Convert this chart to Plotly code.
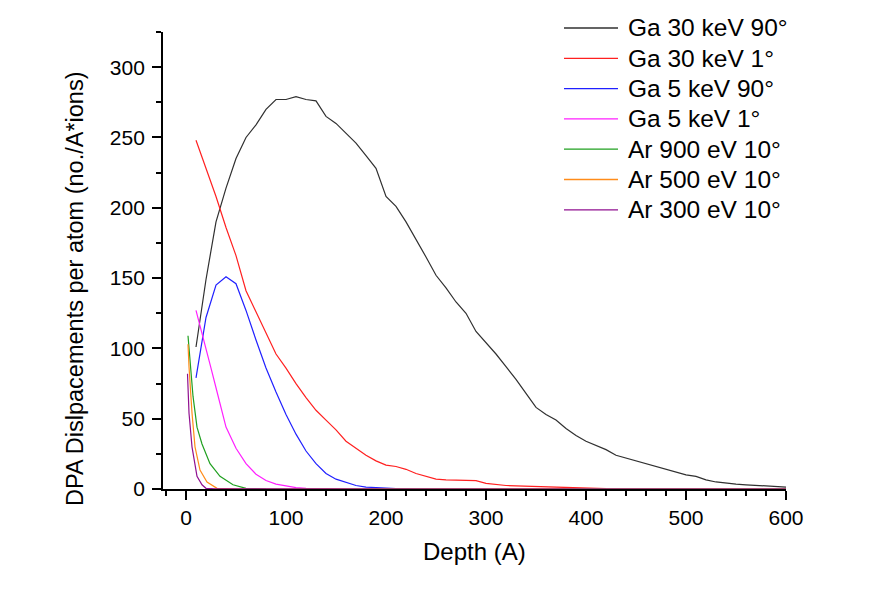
import plotly.graph_objects as go

# ---- data ----
ga30_90_x = list(range(10, 610, 10))
ga30_90_y = [101, 149, 190, 214, 235, 250, 259, 270, 277, 277,
             279, 277, 276, 265, 260, 253, 246, 237, 228, 208,
             201, 190, 178, 165, 152, 143, 133, 125, 112, 104,
             96, 87, 78, 68, 58, 53, 49, 43, 38, 34,
             31, 28, 24, 22, 20, 18, 16, 14, 12, 10,
             9, 6.5, 5, 4, 3.5, 3, 2.5, 2, 1.7, 1.4]

ga30_1_x = list(range(10, 430, 10))
ga30_1_y = [248, 228, 208, 186, 166, 141, 126, 112, 96, 86,
            75, 65, 56, 49, 42, 34, 29, 24, 20, 17,
            16, 14, 11, 9, 7, 6.5, 6.3, 6.2, 6, 4,
            3, 2.5, 2.2, 2, 1.8, 1.6, 1.2, 1, 0.9, 0.8,
            0.5, 0.2]

ga5_90_x = list(range(10, 240, 10)) + [300, 400, 500, 600]
ga5_90_y = [79, 122, 145, 151, 146, 127, 106, 86, 69, 53,
            39, 27, 18, 11, 7, 4.5, 2.5, 1.4, 0.9, 0.5,
            0.3, 0.2, 0.1, 0, 0, 0, 0]

ga5_1_x = [10, 15, 20, 25, 30, 40, 50, 60, 70, 80, 90, 100, 110, 120, 140, 160, 200, 300, 400, 600]
ga5_1_y = [127, 114, 100, 86, 72, 44, 29, 18, 10.5, 6, 3.5, 2, 1, 0.5, 0.2, 0.1, 0, 0, 0, 0]

ar900_x = [2, 4, 7, 11, 16, 24, 34, 47, 60, 80, 100, 200, 400, 600]
ar900_y = [109, 92, 66, 44, 32, 18, 9, 3, 0.5, 0.1, 0, 0, 0, 0]

ar500_x = [2, 3, 6, 9, 14, 21, 31, 45, 60, 100, 200, 400, 600]
ar500_y = [103, 87, 54, 30, 13.5, 5, 0.5, 0.1, 0, 0, 0, 0, 0]

ar300_x = [1.5, 3, 6, 11, 16, 20, 30, 60, 100, 200, 400, 600]
ar300_y = [82, 54, 30, 9, 3, 0.5, 0.1, 0, 0, 0, 0, 0]

series_names = ["Ga 30 keV 90°", "Ga 30 keV 1°", "Ga 5 keV 90°", "Ga 5 keV 1°",
                "Ar 900 eV 10°", "Ar 500 eV 10°", "Ar 300 eV 10°"]
series_x = [ga30_90_x, ga30_1_x, ga5_90_x, ga5_1_x, ar900_x, ar500_x, ar300_x]
series_y = [ga30_90_y, ga30_1_y, ga5_90_y, ga5_1_y, ar900_y, ar500_y, ar300_y]
series_colors = ["#303030", "#ff2020", "#2020ff", "#ff20ff", "#20a020", "#ff8c1a", "#901090"]

FONT = "Liberation Sans, Arial, sans-serif"
W, H = 896, 589
ML, MR, MT, MB = 163, 110, 32, 100
PW, PH = W - ML - MR, H - MT - MB


def px_to_paper(px, py):
    return (px - ML) / PW, (H - MB - py) / PH


fig = go.Figure()
for name, xs, ys, col in zip(series_names, series_x, series_y, series_colors):
    fig.add_trace(go.Scatter(x=xs, y=ys, mode="lines", name=name, showlegend=False,
                             line=dict(color=col, width=1.2)))

axis_common = dict(
    showline=True, linecolor="black", linewidth=1.8,
    ticks="outside", tickcolor="black", tickwidth=1.8, ticklen=9,
    showgrid=False, zeroline=False, mirror=False,
    tickfont=dict(family=FONT, size=21, color="black"),
)

fig.update_xaxes(range=[-23, 600], tick0=0, dtick=100,
                 minor=dict(dtick=20, ticklen=5, tickcolor="black", tickwidth=1.5, ticks="outside"),
                 ticklabelstandoff=0, **axis_common)
fig.update_yaxes(range=[0, 325], tick0=0, dtick=50,
                 minor=dict(dtick=25, ticklen=5, tickcolor="black", tickwidth=1.5, ticks="outside"),
                 ticklabelstandoff=3, **axis_common)

fig.add_annotation(text="Depth (A)", xref="paper", yref="paper", x=0.5, y=px_to_paper(0, 551)[1],
                   xanchor="center", yanchor="middle", showarrow=False,
                   font=dict(family=FONT, size=24, color="black"))
fig.add_annotation(text="DPA Dislpacements per atom (no./A*ions)", xref="paper", yref="paper",
                   x=px_to_paper(75, 0)[0], y=px_to_paper(0, 289)[1], textangle=-90,
                   xanchor="center", yanchor="middle",
                   showarrow=False, font=dict(family=FONT, size=23.5, color="black"))

# manual legend (to match the tight row spacing of the reference)
LEG_TOP, LEG_STEP = 28, 30.3
LINE_X0, LINE_X1, TEXT_X = 564, 618, 626
for i, (name, col) in enumerate(zip(series_names, series_colors)):
    py = LEG_TOP + i * LEG_STEP
    x0, yy = px_to_paper(LINE_X0, py)
    x1, _ = px_to_paper(LINE_X1, py)
    xt, _ = px_to_paper(TEXT_X, py)
    fig.add_shape(type="line", xref="paper", yref="paper", x0=x0, x1=x1, y0=yy, y1=yy,
                  line=dict(color=col, width=1.3))
    fig.add_annotation(text=name, xref="paper", yref="paper", x=xt, y=yy,
                       xanchor="left", yanchor="middle", showarrow=False,
                       font=dict(family=FONT, size=24.5, color="black"))

fig.update_layout(
    width=W, height=H,
    margin=dict(l=ML, r=MR, t=MT, b=MB),
    plot_bgcolor="white", paper_bgcolor="white",
    showlegend=False,
)

fig.write_html("out.html")
